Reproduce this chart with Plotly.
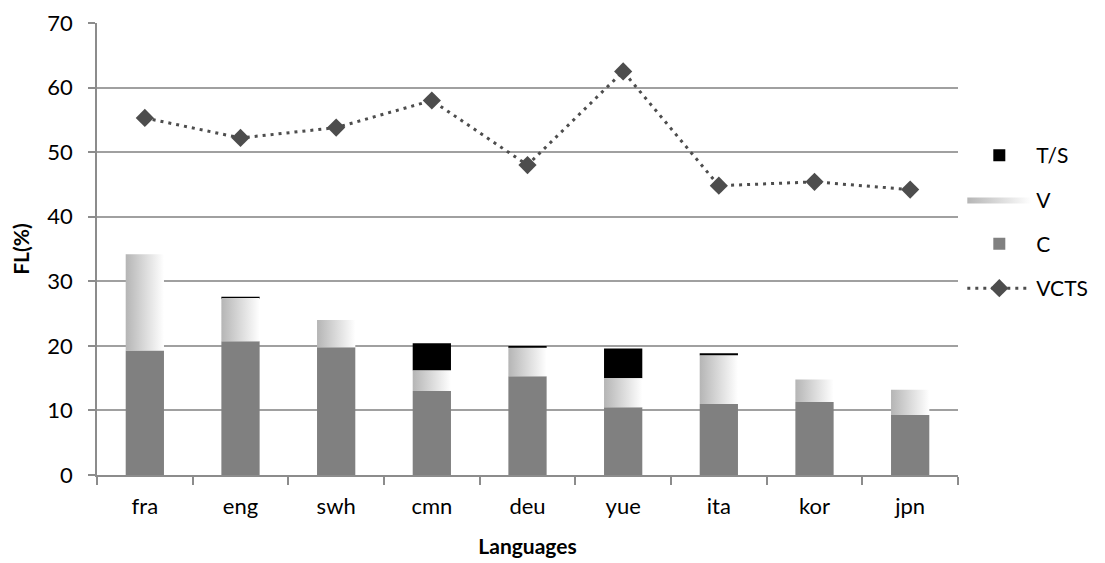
import plotly.graph_objects as go

languages = ["fra", "eng", "swh", "cmn", "deu", "yue", "ita", "kor", "jpn"]
c_vals = [19.3, 20.7, 19.8, 13.0, 15.3, 10.5, 11.0, 11.3, 9.3]
v_vals = [14.9, 6.7, 4.2, 3.2, 4.4, 4.5, 7.5, 3.5, 3.9]
ts_vals = [0.0, 0.2, 0.0, 4.2, 0.15, 4.6, 0.35, 0.0, 0.0]
vcts_vals = [55.3, 52.2, 53.8, 58.0, 48.0, 62.5, 44.8, 45.4, 44.2]
y_ticks = [0, 10, 20, 30, 40, 50, 60, 70]

FONT = "Lato"
BAR_W = 0.4
x_idx = list(range(len(languages)))

fig = go.Figure()

# C bars
fig.add_trace(go.Bar(
    x=x_idx, y=c_vals, width=BAR_W, name="C",
    marker=dict(color="#808080", line=dict(width=0)),
    legendgroup="C", legendrank=3,
))

# V segments with gradient fill
for i, (c, v) in enumerate(zip(c_vals, v_vals)):
    x0, x1 = i - BAR_W / 2, i + BAR_W / 2
    fig.add_trace(go.Scatter(
        x=[x0, x1, x1, x0, x0], y=[c, c, c + v, c + v, c],
        mode="lines", fill="toself", line=dict(width=0, color="rgba(0,0,0,0)"),
        fillgradient=dict(type="horizontal",
                          colorscale=[[0, "#b5b5b5"], [1, "#ffffff"]]),
        name="V", legendgroup="V", showlegend=(i == 0), legendrank=2,
        hoverinfo="skip",
    ))

# T/S bars on top
fig.add_trace(go.Bar(
    x=x_idx, y=ts_vals, width=BAR_W, name="T/S",
    base=[c + v for c, v in zip(c_vals, v_vals)],
    marker=dict(color="#000000", line=dict(width=0)),
    legendgroup="TS", legendrank=1,
))

# VCTS line
fig.add_trace(go.Scatter(
    x=x_idx, y=vcts_vals, name="VCTS", mode="lines+markers",
    line=dict(color="#4d4d4d", width=3, dash="3px,5px"),
    marker=dict(symbol="diamond", size=14, color="#4d4d4d"),
    legendgroup="VCTS", legendrank=4,
))

fig.update_layout(
    width=1097, height=555,
    margin=dict(l=89, r=144, t=14.5, b=87.5),
    paper_bgcolor="white", plot_bgcolor="white",
    barmode="overlay",
    font=dict(family=FONT, size=22, color="#000000"),
    legend=dict(
        x=1.005, y=0.752, xanchor="left", yanchor="top",
        font=dict(family=FONT, size=21), itemwidth=64,
        tracegroupgap=14, bgcolor="rgba(0,0,0,0)",
    ),
    xaxis=dict(
        range=[-0.5, len(languages) - 0.5],
        tickmode="array", tickvals=x_idx, ticktext=languages,
        ticks="", showgrid=False, zeroline=False, automargin=False,
        showline=True, linecolor="#8c8c8c", linewidth=1.5,
        minor=dict(tick0=-0.5, dtick=1, ticks="outside", ticklen=8,
                   tickcolor="#8c8c8c", tickwidth=1.5, showgrid=False),
        ticklabelstandoff=11,
        title=dict(text="<b>Languages</b>", font=dict(family=FONT, size=21), standoff=21),
        tickfont=dict(family=FONT, size=22),
    ),
    yaxis=dict(
        range=[0, 70], tickmode="array", tickvals=y_ticks,
        showgrid=True, gridcolor="#a0a0a0", gridwidth=1.5,
        zeroline=False, showline=True, linecolor="#8c8c8c", linewidth=1.5,
        ticks="outside", ticklen=7, tickcolor="#8c8c8c", tickwidth=1.5,
        automargin=False, ticklabelstandoff=11, ticklabeloverflow="allow",
        title=dict(text="<b>FL(%)</b>", font=dict(family=FONT, size=21), standoff=12),
        tickfont=dict(family=FONT, size=22),
    ),
)

fig.write_html("out.html")
